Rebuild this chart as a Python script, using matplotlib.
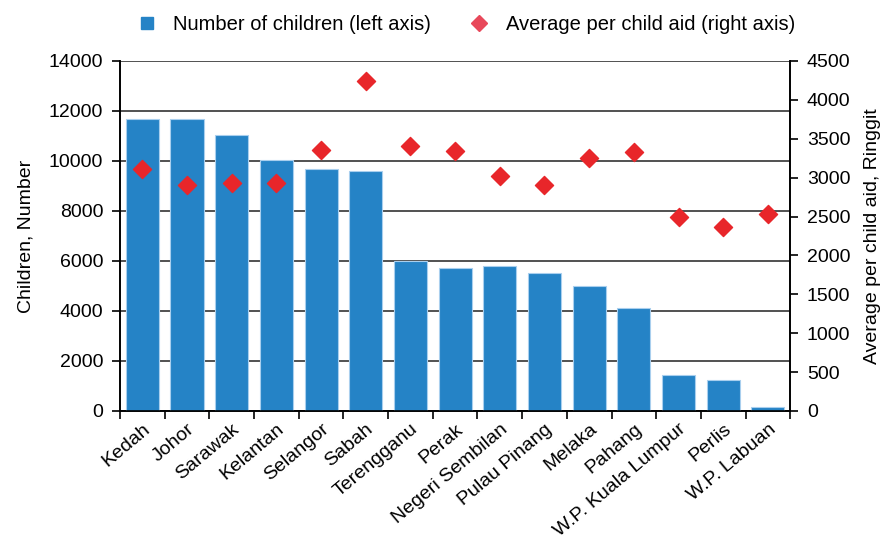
import numpy as np
import matplotlib.pyplot as plt
from matplotlib.lines import Line2D

plt.rcParams['font.family'] = ['Liberation Sans', 'DejaVu Sans']

states = ['Kedah', 'Johor', 'Sarawak', 'Kelantan', 'Selangor', 'Sabah',
          'Terengganu', 'Perak', 'Negeri Sembilan', 'Pulau Pinang', 'Melaka',
          'Pahang', 'W.P. Kuala Lumpur', 'Perlis', 'W.P. Labuan']
children = [11690, 11660, 11050, 10030, 9680, 9590,
            5990, 5730, 5790, 5520, 5010,
            4120, 1450, 1230, 170]
aid = [3115, 2902, 2936, 2936, 3356, 4247,
       3411, 3343, 3021, 2902, 3253,
       3334, 2494, 2370, 2533]

bar_color = '#2583c6'
dot_color = '#e8262a'
fs = 14

fig = plt.figure(figsize=(8.95, 5.42), dpi=100)
ax = fig.add_axes([0.134, 0.2417, 0.749, 0.6458])
ax2 = ax.twinx()

x = np.arange(len(states))
ax.bar(x, children, width=0.74, color=bar_color, edgecolor='#a9cfee',
       linewidth=0.8, zorder=3)
ax2.scatter(x, aid, marker='D', s=85, color=dot_color, zorder=4)

ax.set_xlim(-0.5, len(states) - 0.5)
ax.set_ylim(0, 14000)
ax.set_yticks(np.arange(0, 14001, 2000))
ax2.set_ylim(0, 4500)
ax2.set_yticks(np.arange(0, 4501, 500))

ax.grid(axis='y', color='#333333', linewidth=1.2, zorder=0)
ax.set_axisbelow(True)

ax.set_xticks(x)
ax.set_xticklabels(states, rotation=40, ha='right', rotation_mode='anchor',
                   fontsize=fs)
ax.tick_params(axis='x', which='major', length=0, pad=7)
ax.set_xticks(np.arange(-0.5, len(states)), minor=True)
ax.tick_params(axis='x', which='minor', length=6, width=1.2, color='black')

ax.tick_params(axis='y', length=6, width=1.2, labelsize=fs, pad=6)
ax2.tick_params(axis='y', length=6, width=1.2, labelsize=fs, pad=6)

for a in (ax, ax2):
    a.spines['top'].set_visible(False)
    for s in ('left', 'right', 'bottom'):
        a.spines[s].set_linewidth(1.2)
        a.spines[s].set_color('black')

ax.set_ylabel('Children, Number', fontsize=fs, labelpad=10)
ax2.set_ylabel('Average per child aid, Ringgit', fontsize=fs, labelpad=10)

handles = [
    Line2D([], [], marker='s', linestyle='none', markersize=9, color=bar_color),
    Line2D([], [], marker='D', linestyle='none', markersize=8, color='#e8485a'),
]
fig.legend(handles, ['Number of children (left axis)',
                     'Average per child aid (right axis)'],
           loc='upper center', bbox_to_anchor=(0.515, 1.005), ncol=2,
           frameon=False, fontsize=14.5, handletextpad=0.3,
           columnspacing=1.4)

fig.savefig('out.png', dpi=100)
